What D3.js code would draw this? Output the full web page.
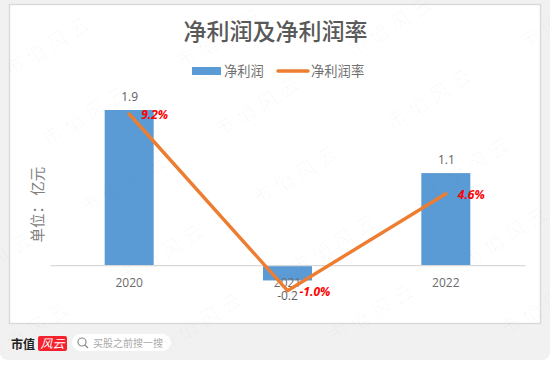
<!DOCTYPE html>
<html>
<head>
<meta charset="utf-8">
<script src="https://cdn.jsdelivr.net/npm/d3@7"></script>
<style>
html, body { margin: 0; padding: 0; background: #fff; }
text { font-family: "Noto Sans CJK SC", "Noto Sans", sans-serif; }
</style>
</head>
<body>
<div id="chart"></div>
<script>
var years = ["2020", "2021", "2022"];
var profit = [1.9, -0.18, 1.13];
var profitLabels = ["1.9", "-0.2", "1.1"];
var margin = [9.2, -1.0, 4.6];
var marginLabels = ["9.2%", "-1.0%", "4.6%"];
var legendNames = ["净利润", "净利润率"];
// watermark anchors
var markX = [144, 10, 182, 353, 525, 48, 220, 392, 86, 258, 430, -48, 124, 296, 468, -10, 162, 334, 506];
var markY = [0, 78, 70, 58, 50, 147, 138, 130, 216, 207, 199, 294, 285, 276, 268, 363, 354, 345, 337];

var width = 550, height = 365;
var svg = d3.select("#chart").append("svg")
	.attr("width", width)
	.attr("height", height)
	.style("display", "block");

// page and chart panel
svg.append("rect").attr("width", width).attr("height", 360).attr("rx", 8).attr("fill", "#f1f1f1");
svg.append("rect").attr("width", width).attr("height", 20).attr("fill", "#f1f1f1");
svg.append("rect").attr("x", 9.5).attr("y", 4.5).attr("width", 531).attr("height", 319)
	.attr("fill", "#fff").attr("stroke", "#d9d9d9").attr("stroke-width", 1.4);

var x = d3.scaleBand().domain(years).range([50, 525]);
var y = d3.scaleLinear().domain([-0.2, 1.9]).range([282.1, 110]);
var y2 = d3.scaleLinear().domain([-1, 9.2]).range([290.7, 114]);
var barW = 49;
var cx = d => x(d) + x.bandwidth() / 2;

// bars
svg.append("g").selectAll("rect").data(profit).join("rect")
	.attr("x", (d, i) => cx(years[i]) - barW / 2)
	.attr("y", d => Math.min(y(d), y(0)))
	.attr("width", barW)
	.attr("height", d => Math.abs(y(d) - y(0)))
	.attr("fill", "#5b9bd5");

// axis line and year labels
var axis = svg.append("g")
	.attr("transform", "translate(0," + (y(0) - 0.5) + ")")
	.call(d3.axisBottom(x).tickSize(0).tickPadding(13));
axis.select(".domain").attr("stroke", "#d9d9d9").attr("stroke-width", 1.2);
axis.selectAll("text").attr("font-size", 12).attr("fill", "#6b6b6b")
	.style("font-family", '"Open Sans", sans-serif');

// margin line
var line = d3.line().x((d, i) => cx(years[i])).y(d => y2(d));
svg.append("path").datum(margin)
	.attr("d", line)
	.attr("fill", "none")
	.attr("stroke", "#ed7d31")
	.attr("stroke-width", 3.4)
	.attr("stroke-linecap", "round")
	.attr("stroke-linejoin", "round");

// bar value labels
svg.append("g").selectAll("text").data(profit).join("text")
	.attr("x", (d, i) => cx(years[i]) + (i == 1 ? 0 : 0.5))
	.attr("y", (d, i) => i == 1 ? y(d) + 20 : y(d) - 9.5)
	.attr("text-anchor", "middle")
	.attr("font-size", 12)
	.attr("fill", "#5f5f5f")
	.style("font-family", '"Open Sans", sans-serif')
	.text((d, i) => profitLabels[i]);

// margin labels
svg.append("g").selectAll("text").data(margin).join("text")
	.attr("x", (d, i) => cx(years[i]) + 12)
	.attr("y", d => y2(d) + 5)
	.attr("font-size", 12)
	.attr("font-weight", "bold")
	.attr("font-style", "italic")
	.attr("fill", "#ff0000")
	.style("font-family", '"Open Sans", sans-serif')
	.text((d, i) => marginLabels[i]);

// title, legend, unit
svg.append("text").attr("x", 275.5).attr("y", 39.5).attr("text-anchor", "middle")
	.attr("font-size", 23).attr("font-weight", 500).attr("fill", "#595959")
	.text("净利润及净利润率");
svg.append("rect").attr("x", 192).attr("y", 67).attr("width", 29).attr("height", 8).attr("fill", "#5b9bd5");
svg.append("text").attr("x", 224).attr("y", 75.5).attr("font-size", 13.3).attr("fill", "#6f6f6f").text(legendNames[0]);
svg.append("line").attr("x1", 278).attr("x2", 308).attr("y1", 71).attr("y2", 71)
	.attr("stroke", "#ed7d31").attr("stroke-width", 3.4).attr("stroke-linecap", "round");
svg.append("text").attr("x", 311).attr("y", 75.5).attr("font-size", 13.3).attr("fill", "#6f6f6f").text(legendNames[1]);
svg.append("text").attr("transform", "translate(43,204.5) rotate(-90)")
	.attr("text-anchor", "middle").attr("font-size", 14.5).attr("fill", "#7f7f7f")
	.text("单位： 亿元");

// footer
svg.append("text").attr("x", 11).attr("y", 349).attr("font-size", 12).attr("font-weight", "bold")
	.attr("fill", "#222").text("市值");
svg.append("rect").attr("x", 38).attr("y", 336).attr("width", 29).attr("height", 15).attr("rx", 2).attr("fill", "#f5222d");
svg.append("text").attr("x", 52.5).attr("y", 348).attr("text-anchor", "middle").attr("font-size", 12)
	.attr("font-style", "italic").attr("fill", "#fff").text("风云");
svg.append("rect").attr("x", 72).attr("y", 334).attr("width", 99).attr("height", 17).attr("rx", 8.5).attr("fill", "#fff");
svg.append("circle").attr("cx", 82).attr("cy", 342).attr("r", 4).attr("fill", "none").attr("stroke", "#8c8c8c").attr("stroke-width", 1.2);
svg.append("line").attr("x1", 85).attr("y1", 345).attr("x2", 88).attr("y2", 348).attr("stroke", "#8c8c8c").attr("stroke-width", 1.2);
svg.append("text").attr("x", 93).attr("y", 347).attr("font-size", 10).attr("fill", "#aaa").text("买股之前搜一搜");

// watermarks
svg.append("g").selectAll("text").data(markX).join("text")
	.attr("transform", (d, i) => "translate(" + d + "," + markY[i] + ") rotate(-31.5)")
	.attr("font-size", 20)
	.attr("font-weight", 300)
	.attr("letter-spacing", 5)
	.attr("fill", "#000")
	.attr("fill-opacity", 0.04)
	.text("市值风云");
</script>
</body>
</html>
